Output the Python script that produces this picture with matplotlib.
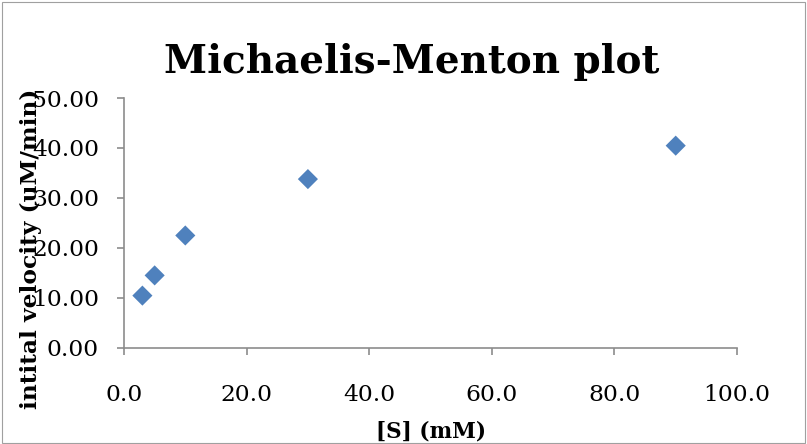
import matplotlib
matplotlib.use("Agg")
import matplotlib.pyplot as plt
from matplotlib.patches import Rectangle
from matplotlib.ticker import FormatStrFormatter

# data
substrate_mM = [3, 5, 10, 30, 90]
velocity_uM_min = [10.4, 14.45, 22.45, 33.75, 40.45]

x_ticks = [0, 20, 40, 60, 80, 100]
y_ticks = [0, 10, 20, 30, 40, 50]

TITLE = "Michaelis-Menton plot"
X_LABEL = "[S] (mM)"
Y_LABEL = "intital velocity (uM/min)"

W, H, DPI = 807, 444, 100
AXIS_GREY = "#8c8c8c"
MARKER_BLUE = "#4f81bd"

plt.rcParams["font.family"] = "DejaVu Serif"

fig = plt.figure(figsize=(W / DPI, H / DPI), dpi=DPI)

# plot area in pixels (from the reference)
left, right, top, bottom = 124, 737, 98, 347.5
ax = fig.add_axes([left / W, 1 - bottom / H, (right - left) / W, (bottom - top) / H])

ax.scatter(substrate_mM, velocity_uM_min, marker="D", s=105,
           color=MARKER_BLUE, edgecolors="none", zorder=3, clip_on=False)

ax.set_xlim(0, 100)
ax.set_ylim(0, 50)
ax.set_xticks(x_ticks)
ax.set_yticks(y_ticks)
ax.xaxis.set_major_formatter(FormatStrFormatter("%.1f"))
ax.yaxis.set_major_formatter(FormatStrFormatter("%.2f"))

for side in ["top", "right"]:
    ax.spines[side].set_visible(False)
for side in ["left", "bottom"]:
    ax.spines[side].set_color(AXIS_GREY)
    ax.spines[side].set_linewidth(1.2)

ax.tick_params(axis="both", direction="out", length=5, width=1.2,
               color=AXIS_GREY, labelsize=16.8, labelcolor="black")
ax.tick_params(axis="y", pad=13)
ax.tick_params(axis="x", pad=21)

# titles placed like the Excel chart (y title overlaps tick labels, as in the original)
fig.text(412 / W, 1 - 73 / H, TITLE, ha="center", va="baseline",
         fontsize=28, fontweight="bold")
fig.text(430.5 / W, 1 - 437 / H, X_LABEL, ha="center", va="baseline",
         fontsize=15.5, fontweight="bold")
fig.text(31 / W, 1 - 249 / H, Y_LABEL, ha="center", va="center",
         rotation=90, fontsize=16.8, fontweight="bold")

# thin chart border
fig.patches.append(Rectangle((2 / W, 1 / H), (W - 4) / W, (H - 3) / H,
                             transform=fig.transFigure, fill=False,
                             edgecolor="#a0a0a0", linewidth=0.8))

fig.savefig("out.png", dpi=DPI)
